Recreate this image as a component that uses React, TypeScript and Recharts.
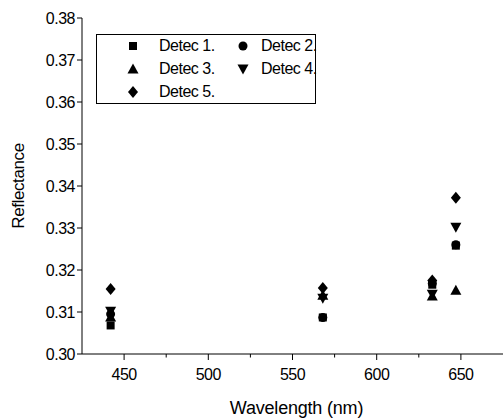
import React from 'react';
import { ScatterChart, Scatter, XAxis, YAxis } from 'recharts';

const wavelengths = [442, 568, 633, 647];
const detec1 = [0.3068, 0.3087, 0.3165, 0.3258];
const detec2 = [0.3095, 0.3087, 0.3168, 0.326];
const detec3 = [0.3088, 0.314, 0.3138, 0.3152];
const detec4 = [0.3102, 0.3133, 0.3142, 0.3302];
const detec5 = [0.3155, 0.3157, 0.3175, 0.3372];
const seriesNames = ['Detec 1.', 'Detec 2.', 'Detec 3.', 'Detec 4.', 'Detec 5.'];
const xTicks = [450, 475, 500, 525, 550, 575, 600, 625, 650];
const xMajor = [450, 500, 550, 600, 650];
const yTicks = [0.3, 0.31, 0.32, 0.33, 0.34, 0.35, 0.36, 0.37, 0.38];

const FONT = 'Arial, "Liberation Sans", sans-serif';

type ShapeKind = 'square' | 'circle' | 'triangle' | 'triangleDown' | 'diamond';
const kinds: ShapeKind[] = ['square', 'circle', 'triangle', 'triangleDown', 'diamond'];

function markerPath(kind: ShapeKind, cx: number, cy: number) {
  switch (kind) {
    case 'square':
      return <rect x={cx - 4} y={cy - 4} width={8} height={8} fill="#000" />;
    case 'circle':
      return <circle cx={cx} cy={cy} r={4.5} fill="#000" />;
    case 'triangle':
      return <path d={`M${cx},${cy - 5.5} L${cx + 5.5},${cy + 4.5} L${cx - 5.5},${cy + 4.5} Z`} fill="#000" />;
    case 'triangleDown':
      return <path d={`M${cx},${cy + 5.5} L${cx + 5.5},${cy - 4.5} L${cx - 5.5},${cy - 4.5} Z`} fill="#000" />;
    case 'diamond':
      return <path d={`M${cx},${cy - 6} L${cx + 5},${cy} L${cx},${cy + 6} L${cx - 5},${cy} Z`} fill="#000" />;
  }
}

const makeShape = (kind: ShapeKind) => (props: any) => {
  const { cx, cy } = props;
  if (cx == null || cy == null) return <g />;
  return markerPath(kind, cx, cy);
};

const allSeries = [detec1, detec2, detec3, detec4, detec5].map((vals) =>
  wavelengths.map((w, i) => ({ x: w, y: vals[i] }))
);

const XTick = (props: any) => {
  const { x, y, payload } = props;
  const v = payload.value;
  const major = xMajor.includes(v);
  return (
    <g>
      <line x1={x} x2={x} y1={y} y2={y + (major ? 6 : 3.5)} stroke="#000" strokeWidth={1} />
      {major && (
        <text x={x} y={y + 26} textAnchor="middle" fontSize={16} fontFamily={FONT} fill="#000" letterSpacing={-0.5}>
          {v}
        </text>
      )}
    </g>
  );
};

const YTick = (props: any) => {
  const { x, y, payload } = props;
  return (
    <g>
      <line x1={x} x2={x - 5} y1={y} y2={y} stroke="#000" strokeWidth={1} />
      <text x={x - 7} y={y + 6} textAnchor="end" fontSize={16} fontFamily={FONT} fill="#000" letterSpacing={-0.5}>
        {payload.value.toFixed(2)}
      </text>
    </g>
  );
};

const YTitle = (props: any) => {
  const vb = props.viewBox || { x: 0, y: 18, width: 82, height: 336 };
  const cy = vb.y + vb.height / 2;
  const cx = 24;
  return (
    <text
      x={cx}
      y={cy}
      transform={`rotate(-90, ${cx}, ${cy})`}
      textAnchor="middle"
      fontSize={17}
      fontFamily={FONT}
      fill="#000"
      letterSpacing={-0.4}
    >
      Reflectance
    </text>
  );
};

const LegendMarker = ({ kind }: { kind: ShapeKind }) => (
  <svg width={14} height={14} style={{ position: 'absolute', left: -7, top: -7 }}>
    {markerPath(kind, 7, 7)}
  </svg>
);

const LegendBox = () => {
  const items = [
    { i: 0, col: 0, row: 0 },
    { i: 1, col: 1, row: 0 },
    { i: 2, col: 0, row: 1 },
    { i: 3, col: 1, row: 1 },
    { i: 4, col: 0, row: 2 },
  ];
  const rowsY = [11, 34, 57];
  const markerX = [36, 146];
  const textX = [62, 164];
  return (
    <div
      style={{
        position: 'absolute',
        left: 96,
        top: 34,
        width: 220,
        height: 70,
        border: '1px solid #000',
        background: '#fff',
        fontFamily: FONT,
        fontSize: 16,
        letterSpacing: -0.5,
        boxSizing: 'border-box',
      }}
    >
      {items.map((it) => (
        <React.Fragment key={it.i}>
          <div style={{ position: 'absolute', left: markerX[it.col], top: rowsY[it.row] }}>
            <LegendMarker kind={kinds[it.i]} />
          </div>
          <div
            style={{
              position: 'absolute',
              left: textX[it.col],
              top: rowsY[it.row] - 10,
              lineHeight: '20px',
              whiteSpace: 'nowrap',
              color: '#000',
            }}
          >
            {seriesNames[it.i]}
          </div>
        </React.Fragment>
      ))}
    </div>
  );
};

export default function App() {
  return (
    <div style={{ position: 'absolute', left: 0, top: 0, width: 503, height: 419, background: '#fff' }}>
      <ScatterChart width={503} height={419} margin={{ top: 18, right: 0, bottom: 0, left: 0 }}>
        <XAxis
          type="number"
          dataKey="x"
          domain={[425, 675]}
          ticks={xTicks}
          interval={0}
          tickLine={false}
          tickSize={0}
          tickMargin={0}
          tick={<XTick />}
          axisLine={{ stroke: '#000', strokeWidth: 1 }}
          allowDataOverflow
          height={65}
          label={{
            value: 'Wavelength (nm)',
            position: 'insideBottom',
            offset: 5,
            fontSize: 18,
            fontFamily: FONT,
            fill: '#000',
            letterSpacing: -0.2,
            dx: 4,
          }}
        />
        <YAxis
          type="number"
          dataKey="y"
          domain={[0.3, 0.38]}
          ticks={yTicks}
          interval={0}
          tickLine={false}
          tickSize={0}
          tickMargin={0}
          tick={<YTick />}
          axisLine={{ stroke: '#000', strokeWidth: 1 }}
          allowDataOverflow
          width={82}
          label={<YTitle />}
        />
        {allSeries.map((data, i) => (
          <Scatter
            key={i}
            name={seriesNames[i]}
            data={data}
            fill="#000"
            shape={makeShape(kinds[i])}
            isAnimationActive={false}
          />
        ))}
      </ScatterChart>
      <LegendBox />
    </div>
  );
}
